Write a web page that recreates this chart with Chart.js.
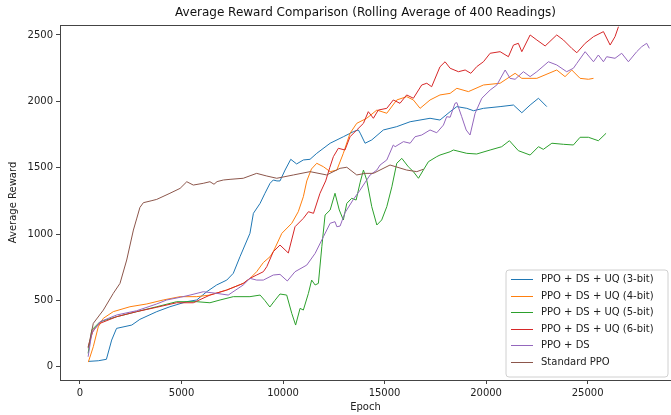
<!DOCTYPE html>
<html>
<head>
<meta charset="utf-8">
<script src="https://cdn.jsdelivr.net/npm/chart.js@4/dist/chart.umd.min.js"></script>
<style>
  html, body { margin: 0; padding: 0; background: #fff; overflow: hidden; }
  #wrap { width: 671px; height: 415px; }
</style>
</head>
<body>
<div id="wrap"><canvas id="c" width="671" height="415"></canvas></div>
<script>
const chartTitle = "Average Reward Comparison (Rolling Average of 400 Readings)";
const xTicks = [0, 5000, 10000, 15000, 20000, 25000];
const yTicks = [0, 500, 1000, 1500, 2000, 2500];
const seriesLabels = ["PPO + DS + UQ (3-bit)", "PPO + DS + UQ (4-bit)", "PPO + DS + UQ (5-bit)", "PPO + DS + UQ (6-bit)", "PPO + DS", "Standard PPO"];
const seriesColors = ["#1f77b4", "#ff7f0e", "#2ca02c", "#d62728", "#9467bd", "#8c564b"];

const epochs3bit = [400, 900, 1300, 1560, 1800, 2550, 2950, 3780, 4430, 5250, 5750, 6240, 6730, 7230, 7550, 7880, 8370, 8540, 8870, 9110, 9360, 9520, 9700, 9850, 10100, 10380, 10670, 11000, 11330, 11660, 12320, 12970, 13460, 13710, 13800, 14040, 14370, 14940, 15600, 16260, 17240, 17730, 18230, 18560, 19050, 19380, 19870, 20690, 21350, 21760, 22170, 22580, 22990];
const reward3bit = [40, 45, 56, 201, 289, 314, 357, 415, 452, 490, 503, 565, 616, 653, 704, 829, 1005, 1156, 1231, 1307, 1382, 1407, 1400, 1400, 1482, 1563, 1528, 1558, 1563, 1608, 1684, 1733, 1771, 1784, 1760, 1684, 1709, 1784, 1809, 1846, 1872, 1859, 1922, 1960, 1947, 1929, 1947, 1960, 1972, 1914, 1972, 2023, 1960];

const epochs4bit = [410, 655, 900, 1150, 1640, 2460, 3290, 4100, 4930, 5750, 6400, 7230, 8040, 8370, 8700, 9030, 9360, 9520, 9940, 10430, 10750, 11000, 11170, 11400, 11660, 11990, 12320, 12650, 12970, 13300, 13630, 14120, 14620, 15110, 15600, 16090, 16420, 16750, 17240, 17730, 18230, 18560, 19130, 19870, 20690, 21430, 21760, 22500, 23480, 23890, 24220, 24630, 25040, 25290];
const reward4bit = [35, 151, 301, 365, 415, 452, 473, 503, 528, 528, 540, 578, 628, 665, 716, 785, 829, 867, 1005, 1081, 1168, 1281, 1400, 1490, 1533, 1507, 1470, 1482, 1608, 1759, 1834, 1872, 1934, 1910, 2010, 2035, 2010, 1947, 2010, 2048, 2060, 2098, 2073, 2123, 2136, 2211, 2173, 2173, 2236, 2186, 2236, 2173, 2166, 2173];

const epochs5bit = [400, 580, 985, 1810, 2790, 3780, 4760, 5750, 6400, 6900, 7550, 8370, 8870, 9100, 9350, 9600, 9850, 10180, 10430, 10620, 10840, 11000, 11250, 11410, 11580, 11740, 11910, 12070, 12320, 12560, 12770, 12970, 13140, 13380, 13600, 13800, 13960, 14120, 14370, 14620, 14860, 15110, 15360, 15600, 15850, 16170, 16420, 16670, 16910, 17160, 17570, 17730, 18230, 18390, 19050, 19540, 20200, 20770, 21150, 21590, 22170, 22580, 22820, 23240, 23810, 24300, 24630, 25040, 25530, 25910];
const reward5bit = [101, 277, 339, 377, 415, 452, 490, 490, 482, 503, 528, 528, 540, 500, 450, 500, 548, 540, 402, 314, 440, 427, 553, 653, 616, 628, 904, 1143, 1181, 1307, 1181, 1106, 1231, 1269, 1256, 1390, 1482, 1407, 1206, 1068, 1106, 1206, 1356, 1533, 1570, 1507, 1470, 1420, 1482, 1545, 1583, 1595, 1620, 1633, 1608, 1603, 1633, 1658, 1703, 1628, 1595, 1658, 1638, 1684, 1676, 1671, 1729, 1729, 1703, 1759];

const epochs6bit = [400, 655, 985, 1810, 2790, 3780, 4760, 5580, 6400, 7230, 8040, 8370, 8700, 9030, 9200, 9520, 9850, 10260, 10590, 11000, 11250, 11500, 11820, 12100, 12300, 12480, 12725, 13050, 13300, 13630, 13960, 14200, 14450, 14690, 15110, 15430, 15760, 16090, 16420, 16830, 17080, 17320, 17730, 17980, 18230, 18640, 18970, 19250, 19540, 19870, 20200, 20690, 21100, 21350, 21590, 21760, 22170, 22500, 22910, 23480, 23810, 24220, 24470, 24880, 25290, 25780, 26110, 26350, 26520];
const reward6bit = [151, 277, 327, 377, 415, 448, 482, 482, 540, 578, 628, 666, 691, 716, 754, 867, 917, 857, 1055, 1118, 1168, 1156, 1307, 1400, 1500, 1583, 1646, 1633, 1733, 1784, 1834, 1922, 1872, 1934, 1947, 2010, 1985, 2048, 2023, 2123, 2136, 2110, 2260, 2298, 2249, 2223, 2236, 2211, 2261, 2298, 2362, 2374, 2336, 2424, 2437, 2374, 2500, 2462, 2417, 2500, 2462, 2399, 2366, 2437, 2487, 2525, 2424, 2487, 2562];

const epochsDS = [400, 580, 985, 1810, 2790, 3780, 4270, 4930, 5420, 6070, 6730, 7300, 8040, 8370, 8700, 9030, 9520, 9850, 10210, 10590, 11170, 11580, 11990, 12320, 12560, 12650, 12810, 13050, 13460, 13790, 14120, 14290, 14620, 14780, 15110, 15430, 15520, 15930, 16260, 16500, 16830, 17240, 17570, 17900, 18060, 18230, 18470, 18560, 18800, 19020, 19210, 19460, 19790, 20200, 20530, 20940, 21180, 21430, 21840, 22170, 22500, 23070, 23480, 23970, 24300, 24470, 24880, 25290, 25530, 25780, 25940, 26350, 26680, 27010, 27420, 27670, 27910, 28040];
const rewardDS = [75, 252, 339, 390, 422, 473, 503, 523, 540, 565, 553, 540, 616, 666, 653, 653, 691, 696, 646, 716, 766, 854, 980, 1081, 1093, 1055, 1060, 1160, 1260, 1330, 1407, 1445, 1482, 1520, 1558, 1671, 1658, 1696, 1684, 1733, 1746, 1784, 1763, 1821, 1884, 1880, 1985, 1990, 1884, 1784, 1746, 1910, 2023, 2085, 2123, 2236, 2173, 2166, 2223, 2186, 2223, 2298, 2274, 2223, 2249, 2286, 2374, 2298, 2349, 2298, 2336, 2324, 2362, 2298, 2374, 2412, 2437, 2399];

const epochsStd = [400, 655, 1150, 1640, 1970, 2300, 2630, 2800, 2950, 3120, 3500, 3780, 4430, 4930, 5260, 5580, 6070, 6400, 6600, 6750, 7060, 7390, 8040, 8700, 9200, 9690, 10510, 11330, 12150, 12808, 13140, 13630, 14040, 14450, 15270, 16090, 16590, 16910];
const rewardStd = [140, 327, 427, 553, 628, 804, 1030, 1120, 1200, 1236, 1250, 1261, 1307, 1344, 1394, 1369, 1382, 1394, 1375, 1395, 1407, 1412, 1420, 1457, 1437, 1420, 1445, 1470, 1445, 1495, 1503, 1445, 1457, 1457, 1520, 1482, 1470, 1488];

const allEpochs = [epochs3bit, epochs4bit, epochs5bit, epochs6bit, epochsDS, epochsStd];
const allRewards = [reward3bit, reward4bit, reward5bit, reward6bit, rewardDS, rewardStd];

function toPoints(xs, ys) { return xs.map((x, i) => ({ x: x, y: ys[i] })); }

const datasets = seriesLabels.map((label, i) => ({
  label: label,
  data: toPoints(allEpochs[i], allRewards[i]),
  borderColor: seriesColors[i],
  backgroundColor: seriesColors[i],
  borderWidth: 1,
  pointRadius: 0,
  tension: 0,
  fill: false,
  order: seriesLabels.length - i
}));

const FONT = "'DejaVu Sans', sans-serif";
const AXIS = '#444';

const framePlugin = {
  id: 'frame',
  afterDraw(chart) {
    const ctx = chart.ctx;
    const a = chart.chartArea;
    ctx.save();
    ctx.strokeStyle = AXIS;
    ctx.lineWidth = 1;
    ctx.beginPath();
    ctx.moveTo(a.left, Math.round(a.top) + 0.5);
    ctx.lineTo(a.right + 5, Math.round(a.top) + 0.5);
    ctx.stroke();

    // legend
    const bx = 506, by = 270, bw = 162, bh = 107, r = 3;
    ctx.fillStyle = 'rgba(255,255,255,0.85)';
    ctx.strokeStyle = '#d0d0d0';
    ctx.beginPath();
    ctx.moveTo(bx + r, by);
    ctx.lineTo(bx + bw - r, by);
    ctx.arcTo(bx + bw, by, bx + bw, by + r, r);
    ctx.lineTo(bx + bw, by + bh - r);
    ctx.arcTo(bx + bw, by + bh, bx + bw - r, by + bh, r);
    ctx.lineTo(bx + r, by + bh);
    ctx.arcTo(bx, by + bh, bx, by + bh - r, r);
    ctx.lineTo(bx, by + r);
    ctx.arcTo(bx, by, bx + r, by, r);
    ctx.closePath();
    ctx.fill();
    ctx.stroke();
    ctx.font = '10px ' + FONT;
    ctx.textBaseline = 'middle';
    ctx.textAlign = 'left';
    chart.data.datasets.forEach((ds, i) => {
      const y = 279 + i * 16.6;
      ctx.strokeStyle = ds.borderColor;
      ctx.lineWidth = 1;
      ctx.beginPath();
      ctx.moveTo(511, Math.round(y) + 0.5);
      ctx.lineTo(533, Math.round(y) + 0.5);
      ctx.stroke();
      ctx.fillStyle = '#222';
      ctx.fillText(ds.label, 541, y + 0.5);
    });
    ctx.restore();
  }
};

new Chart(document.getElementById('c'), {
  type: 'line',
  data: { datasets: datasets },
  options: {
    responsive: false,
    animation: false,
    devicePixelRatio: 1,
    layout: { padding: { left: 0, right: 0, top: 0, bottom: 0 } },
    plugins: {
      legend: { display: false },
      tooltip: { enabled: false },
      title: {
        display: true,
        text: chartTitle,
        fullSize: false,
        color: '#111',
        font: { family: FONT, size: 12, weight: 'normal', lineHeight: 1.2 },
        padding: { top: 6, bottom: 4.6 }
      }
    },
    scales: {
      x: {
        type: 'linear',
        min: -985,
        max: 29108,
        afterBuildTicks: (s) => { s.ticks = xTicks.map(v => ({ value: v })); },
        afterFit: (s) => { s.height = 35; },
        ticks: { callback: (v) => String(v), color: '#222', font: { family: FONT, size: 10 }, padding: 3, maxRotation: 0, autoSkip: false },
        grid: { display: true, drawOnChartArea: false, drawTicks: true, tickLength: 4, color: AXIS },
        border: { display: true, color: AXIS, width: 1 },
        title: { display: true, text: 'Epoch', color: '#222', font: { family: FONT, size: 10, lineHeight: 1.2 }, padding: { top: 0, bottom: 2 } }
      },
      y: {
        type: 'linear',
        min: -100,
        max: 2575,
        afterBuildTicks: (s) => { s.ticks = yTicks.map(v => ({ value: v })); },
        afterFit: (s) => { s.width = 60; },
        ticks: { callback: (v) => String(v), color: '#222', font: { family: FONT, size: 10 }, padding: 3, autoSkip: false },
        grid: { display: true, drawOnChartArea: false, drawTicks: true, tickLength: 4, color: AXIS },
        border: { display: true, color: AXIS, width: 1 },
        title: { display: true, text: 'Average Reward', color: '#222', font: { family: FONT, size: 10, lineHeight: 1.2 }, padding: { top: 7, bottom: 0 } }
      }
    }
  },
  plugins: [framePlugin]
});
</script>
</body>
</html>
